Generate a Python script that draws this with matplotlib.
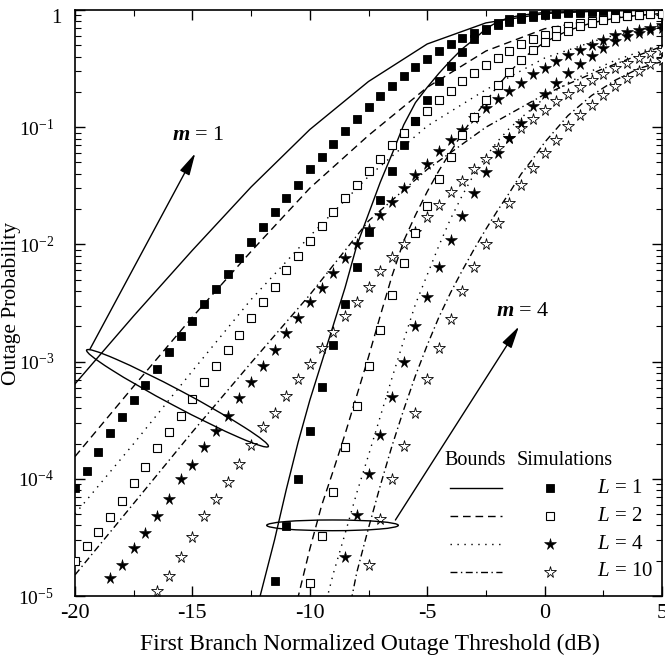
import numpy as np
import matplotlib
matplotlib.use("Agg")
import matplotlib.pyplot as plt
from matplotlib.patches import Ellipse
from matplotlib.ticker import MultipleLocator, LogLocator, NullFormatter, FuncFormatter, FixedLocator

plt.rcParams['font.family'] = ['Liberation Serif', 'DejaVu Serif']
plt.rcParams['mathtext.fontset'] = 'custom'
plt.rcParams['mathtext.rm'] = 'Liberation Serif'
plt.rcParams['mathtext.it'] = 'Liberation Serif:italic'
plt.rcParams['mathtext.bf'] = 'Liberation Serif:italic:bold'
plt.rcParams['axes.unicode_minus'] = False

# ---------------- data (log10 of outage probability) ----------------
# simulation threshold grid (dB)
sim_db = [-20, -19.5, -19, -18.5, -18, -17.5, -17, -16.5, -16, -15.5,
          -15, -14.5, -14, -13.5, -13, -12.5, -12, -11.5, -11, -10.5,
          -10, -9.5, -9, -8.5, -8, -7.5, -7, -6.5, -6, -5.5,
          -5, -4.5, -4, -3.5, -3, -2.5, -2, -1.5, -1, -0.5,
          0, 0.5, 1, 1.5, 2, 2.5, 3, 3.5, 4, 4.5, 5]

# m = 1 simulations
sim_m1_L1 = [-4.08, -3.93, -3.77, -3.61, -3.47, -3.33, -3.20, -3.06, -2.92, -2.78,
             -2.65, -2.51, -2.38, -2.25, -2.12, -1.98, -1.85, -1.72, -1.60, -1.49,
             -1.36, -1.25, -1.14, -1.03, -0.93, -0.83, -0.73, -0.65, -0.56, -0.49,
             -0.42, -0.35, -0.29, -0.24, -0.20, -0.165, -0.13, -0.10, -0.075, -0.058,
             -0.045, -0.035, -0.028, -0.022, -0.018, -0.015, -0.012, -0.010, -0.008, -0.007, -0.006]
sim_m1_L2 = [-4.70, -4.57, -4.45, -4.33, -4.19, -4.04, -3.90, -3.74, -3.60, -3.46,
             -3.32, -3.17, -3.04, -2.90, -2.77, -2.63, -2.49, -2.36, -2.22, -2.10,
             -1.97, -1.84, -1.72, -1.60, -1.49, -1.37, -1.27, -1.15, -1.05, -0.95,
             -0.86, -0.77, -0.69, -0.61, -0.54, -0.47, -0.41, -0.35, -0.29, -0.25,
             -0.21, -0.17, -0.14, -0.11, -0.09, -0.07, -0.06, -0.05, -0.04, -0.035, -0.03]
sim_m1_L4 = [None, None, None,
             -4.85, -4.735, -4.59, -4.46, -4.32, -4.17, -4.00, -3.88, -3.73, -3.59,
             -3.46, -3.31, -3.17, -3.04, -2.90, -2.76, -2.63, -2.49, -2.37, -2.24,
             -2.12, -2.00, -1.87, -1.75, -1.64, -1.52, -1.41, -1.31, -1.20, -1.11,
             -1.02, -0.92, -0.84, -0.76, -0.69, -0.62, -0.55, -0.495, -0.438, -0.381,
             -0.339, -0.296, -0.253, -0.21, -0.188, -0.168, -0.153, -0.13]
sim_m1_L10 = [None, None, None, None, None, None, None,
              -4.96, -4.83, -4.67, -4.50, -4.32, -4.17, -4.03, -3.87, -3.71, -3.56,
              -3.44, -3.29, -3.15, -3.02, -2.88, -2.75, -2.61, -2.49, -2.36, -2.23,
              -2.11, -2.00, -1.89, -1.77, -1.66, -1.55, -1.46, -1.36, -1.27, -1.18,
              -1.09, -1.005, -0.93, -0.85, -0.78, -0.717, -0.66, -0.595, -0.546, -0.495,
              -0.452, -0.41, -0.367, -0.339]

# m = 4 simulations
sim_m4_L1 = [None] * 17 + [
             -4.87, -4.40, -4.00, -3.59, -3.22, -2.86, -2.51, -2.195, -1.89, -1.62,
             -1.37, -1.15, -0.95, -0.77, -0.61, -0.48, -0.36, -0.25, -0.17, -0.114,
             -0.08, -0.057, -0.04, -0.03, -0.022, -0.016, -0.012, -0.009, -0.007, -0.005,
             -0.004, -0.003, -0.002, -0.002]
sim_m4_L2 = [None] * 20 + [
             -4.89, -4.49, -4.115, -3.73, -3.38, -3.04, -2.73, -2.43, -2.16, -1.90,
             -1.67, -1.44, -1.25, -1.07, -0.91, -0.77, -0.64, -0.526, -0.425, -0.34,
             -0.27, -0.22, -0.176, -0.14, -0.11, -0.085, -0.068, -0.055, -0.045, -0.037,
             -0.03]
sim_m4_L4 = [None] * 23 + [
             -4.67, -4.31, -3.96, -3.63, -3.30, -3.00, -2.70, -2.45, -2.19, -1.96,
             -1.755, -1.56, -1.38, -1.22, -1.09, -0.964, -0.822, -0.717, -0.623, -0.538,
             -0.46, -0.395, -0.324, -0.267, -0.224, -0.196, -0.168, -0.15]
sim_m4_L10 = [None] * 25 + [
              -4.735, -4.34, -4.00, -3.72, -3.44, -3.15, -2.88, -2.64, -2.40, -2.19,
              -2.00, -1.82, -1.65, -1.49, -1.35, -1.22, -1.107, -0.992, -0.893, -0.808,
              -0.722, -0.651, -0.58, -0.523, -0.461, -0.424]

# bounds, m = 1
bnd_m1_db = [-20, -17.5, -15, -12.5, -10, -7.5, -5, -2.5, 0, 2.5, 5]
bnd_m1_L1 = [-3.19, -2.61, -2.05, -1.51, -1.02, -0.61, -0.29, -0.11, -0.03, -0.008, -0.002]
bnd_m1_L2 = [-3.81, -3.21, -2.62, -2.06, -1.52, -1.07, -0.66, -0.35, -0.16, -0.07, -0.03]
bnd_m1_L4 = [-4.30, -3.70, -3.08, -2.47, -1.93, -1.42, -0.99, -0.68, -0.41, -0.24, -0.12]
bnd_m1_L10 = [-4.82, -4.21, -3.60, -3.01, -2.43, -1.80, -1.36, -1.00, -0.72, -0.50, -0.31]

# bounds, m = 4
bnd_m4_L1_db = [-12.5, -12, -11.5, -11, -10.5, -10, -9.5, -9, -8.5, -8, -7.5, -7, -6.5, -6,
                -5.5, -5, -4.5, -4, -3.5, -3, -2.5, -2, -1.5, -1, 0, 2.5, 5]
bnd_m4_L1 = [-5.3, -4.91, -4.52, -4.09, -3.69, -3.33, -3.01, -2.69, -2.37, -2.01, -1.74, -1.47,
             -1.23, -0.98, -0.79, -0.66, -0.54, -0.43, -0.33, -0.25, -0.16, -0.10, -0.065,
             -0.045, -0.02, -0.005, -0.001]
bnd_m4_L2_db = [-11, -10.5, -10, -9.5, -9, -8.5, -8, -7.5, -7, -6.5, -6, -5.5, -5, -4.5, -4,
                -3.5, -3, -2.5, -2, -1.5, -1, -0.5, 0, 1, 2, 3, 4, 5]
bnd_m4_L2 = [-5.45, -5.01, -4.60, -4.23, -3.93, -3.62, -3.29, -2.96, -2.61, -2.27, -1.97, -1.75,
             -1.55, -1.37, -1.21, -1.05, -0.91, -0.78, -0.65, -0.53, -0.43, -0.345, -0.275,
             -0.175, -0.11, -0.07, -0.045, -0.03]
bnd_m4_L4_db = [-9.5, -9, -8.5, -8, -7.5, -7, -6.5, -6, -5.5, -5, -4.5, -4, -3.5, -3, -2.5, -2,
                -1.5, -1, 0, 1, 2, 3, 4, 5]
bnd_m4_L4 = [-5.2, -4.81, -4.47, -4.12, -3.80, -3.47, -3.14, -2.82, -2.51, -2.26, -2.01, -1.78,
             -1.58, -1.40, -1.25, -1.12, -1.01, -0.92, -0.75, -0.62, -0.52, -0.43, -0.36, -0.30]
bnd_m4_L10_db = [-8.5, -8, -7.5, -7, -6.5, -6, -5.5, -5, -4.5, -4, -3.5, -3, -2.5, -2, -1.5, -1,
                 -0.5, 0, 1, 2, 3, 4, 5]
bnd_m4_L10 = [-5.3, -4.80, -4.42, -4.06, -3.72, -3.41, -3.12, -2.86, -2.62, -2.41, -2.22, -2.04,
              -1.87, -1.71, -1.56, -1.40, -1.27, -1.13, -0.90, -0.73, -0.60, -0.50, -0.44]

diversity_labels = ['1', '2', '4', '10']
xtick_vals = [-20, -15, -10, -5, 0, 5]

# ---------------- styles ----------------
line_styles = ['-', (0, (5.5, 3.5)), (0, (1, 4)), (0, (5, 2.5, 1, 2.5))]
marker_styles = [
    dict(marker='s', ms=5.2, mfc='k', mec='k', mew=0.6),
    dict(marker='s', ms=5.4, mfc='white', mec='k', mew=0.8),
    dict(marker='*', ms=8.5, mfc='k', mec='k', mew=0.4),
    dict(marker='*', ms=8.5, mfc='white', mec='k', mew=0.6),
]

fig = plt.figure(figsize=(6.65, 6.57), dpi=100)
ax = fig.add_axes([75 / 665, 61 / 657, 587 / 665, 586 / 657])
ax.set_yscale('log')

def to_p(vals):
    return 10 ** np.array(vals, dtype=float)

bounds = [
    (bnd_m1_db, bnd_m1_L1), (bnd_m1_db, bnd_m1_L2), (bnd_m1_db, bnd_m1_L4), (bnd_m1_db, bnd_m1_L10),
    (bnd_m4_L1_db, bnd_m4_L1), (bnd_m4_L2_db, bnd_m4_L2), (bnd_m4_L4_db, bnd_m4_L4), (bnd_m4_L10_db, bnd_m4_L10),
]
for i, (xd, yd) in enumerate(bounds):
    ax.plot(xd, to_p(yd), color='k', lw=1.0, linestyle=line_styles[i % 4], zorder=2)

sims = [sim_m1_L1, sim_m1_L2, sim_m1_L4, sim_m1_L10, sim_m4_L1, sim_m4_L2, sim_m4_L4, sim_m4_L10]
for i, yd in enumerate(sims):
    ax.plot(sim_db, to_p(yd), linestyle='none', zorder=3, **marker_styles[i % 4])

ax.set_xlim(-20, 5)
ax.set_ylim(1e-5, 1)

# ticks
ax.xaxis.set_major_locator(FixedLocator(xtick_vals))
ax.xaxis.set_minor_locator(MultipleLocator(2.5))
ax.xaxis.set_major_formatter(FuncFormatter(lambda v, p: '%d' % round(v)))
ax.yaxis.set_major_locator(LogLocator(base=10, numticks=10))
ax.yaxis.set_minor_locator(LogLocator(base=10, subs=np.arange(2, 10), numticks=20))
ax.yaxis.set_minor_formatter(NullFormatter())

def yfmt(v, pos):
    e = int(round(np.log10(v)))
    if e == 0:
        return ''
    return r'$\mathregular{10^{%d}}$' % e
ax.yaxis.set_major_formatter(FuncFormatter(yfmt))

ax.tick_params(which='both', direction='in', top=True, right=True)
ax.tick_params(which='major', length=7.5, width=1.0)
ax.tick_params(which='minor', length=4.5, width=0.8)
ax.tick_params(axis='x', labelsize=16, pad=6)
ax.tick_params(axis='y', labelsize=14, pad=15)
for s in ax.spines.values():
    s.set_linewidth(1.2)

ax.annotate('1', xy=(0, 1), xycoords=('axes fraction', 'data'), xytext=(-10, 1),
            textcoords='offset points', ha='right', va='top', fontsize=15)

ax.set_xlabel('First Branch Normalized Outage Threshold (dB)', fontsize=17)
ax.xaxis.set_label_coords(0.502, -0.065)
ax.set_ylabel('Outage Probability', fontsize=15.5)
ax.yaxis.set_label_coords(-0.092, 0.50)

# annotations: ellipses and arrows
ax.add_patch(Ellipse((0.1746, 0.3374), 0.3506, 0.0276, angle=-28.0, transform=ax.transAxes,
                     fill=False, ec='k', lw=1.0, zorder=4))
ax.add_patch(Ellipse((0.4387, 0.1206), 0.2242, 0.0183, angle=0, transform=ax.transAxes,
                     fill=False, ec='k', lw=1.0, zorder=4))
arrow_kw = dict(arrowstyle='-|>,head_length=0.9,head_width=0.22', mutation_scale=15,
                lw=1.0, color='k', shrinkA=0, shrinkB=0)
ax.annotate('', xy=(-14.88, 5.98e-2), xytext=(-19.36, 1.28e-3), arrowprops=arrow_kw, zorder=4)
ax.annotate('', xy=(-1.096, 1.99e-3), xytext=(-6.354, 4.45e-5), arrowprops=arrow_kw, zorder=4)
ax.text(-14.755, 0.0849, r'$\mathbf{m}$ = 1', fontsize=16, ha='center', va='center')
ax.text(-0.94, 2.70e-3, r'$\mathbf{m}$ = 4', fontsize=16, ha='center', va='center')

# legend (drawn manually)
tr = ax.transAxes
ax.text(0.630, 0.2304, 'Bounds', transform=tr, fontsize=14.5, ha='left', va='center')
ax.text(0.752, 0.2304, 'Simulations', transform=tr, fontsize=14.5, ha='left', va='center')
row_y = [0.1838, 0.1357, 0.0879, 0.041]
for i in range(4):
    ax.plot([0.6388, 0.7274], [row_y[i]] * 2, transform=tr, color='k', lw=1.0,
            linestyle=line_styles[i], clip_on=False)
    ax.plot([0.8092], [row_y[i]], transform=tr, linestyle='none', clip_on=False, **marker_styles[i])
    ax.text(0.8893, row_y[i], r'$\mathit{L}$ = ' + diversity_labels[i], transform=tr,
            fontsize=15, ha='left', va='center')

fig.savefig('out.png', dpi=100)
